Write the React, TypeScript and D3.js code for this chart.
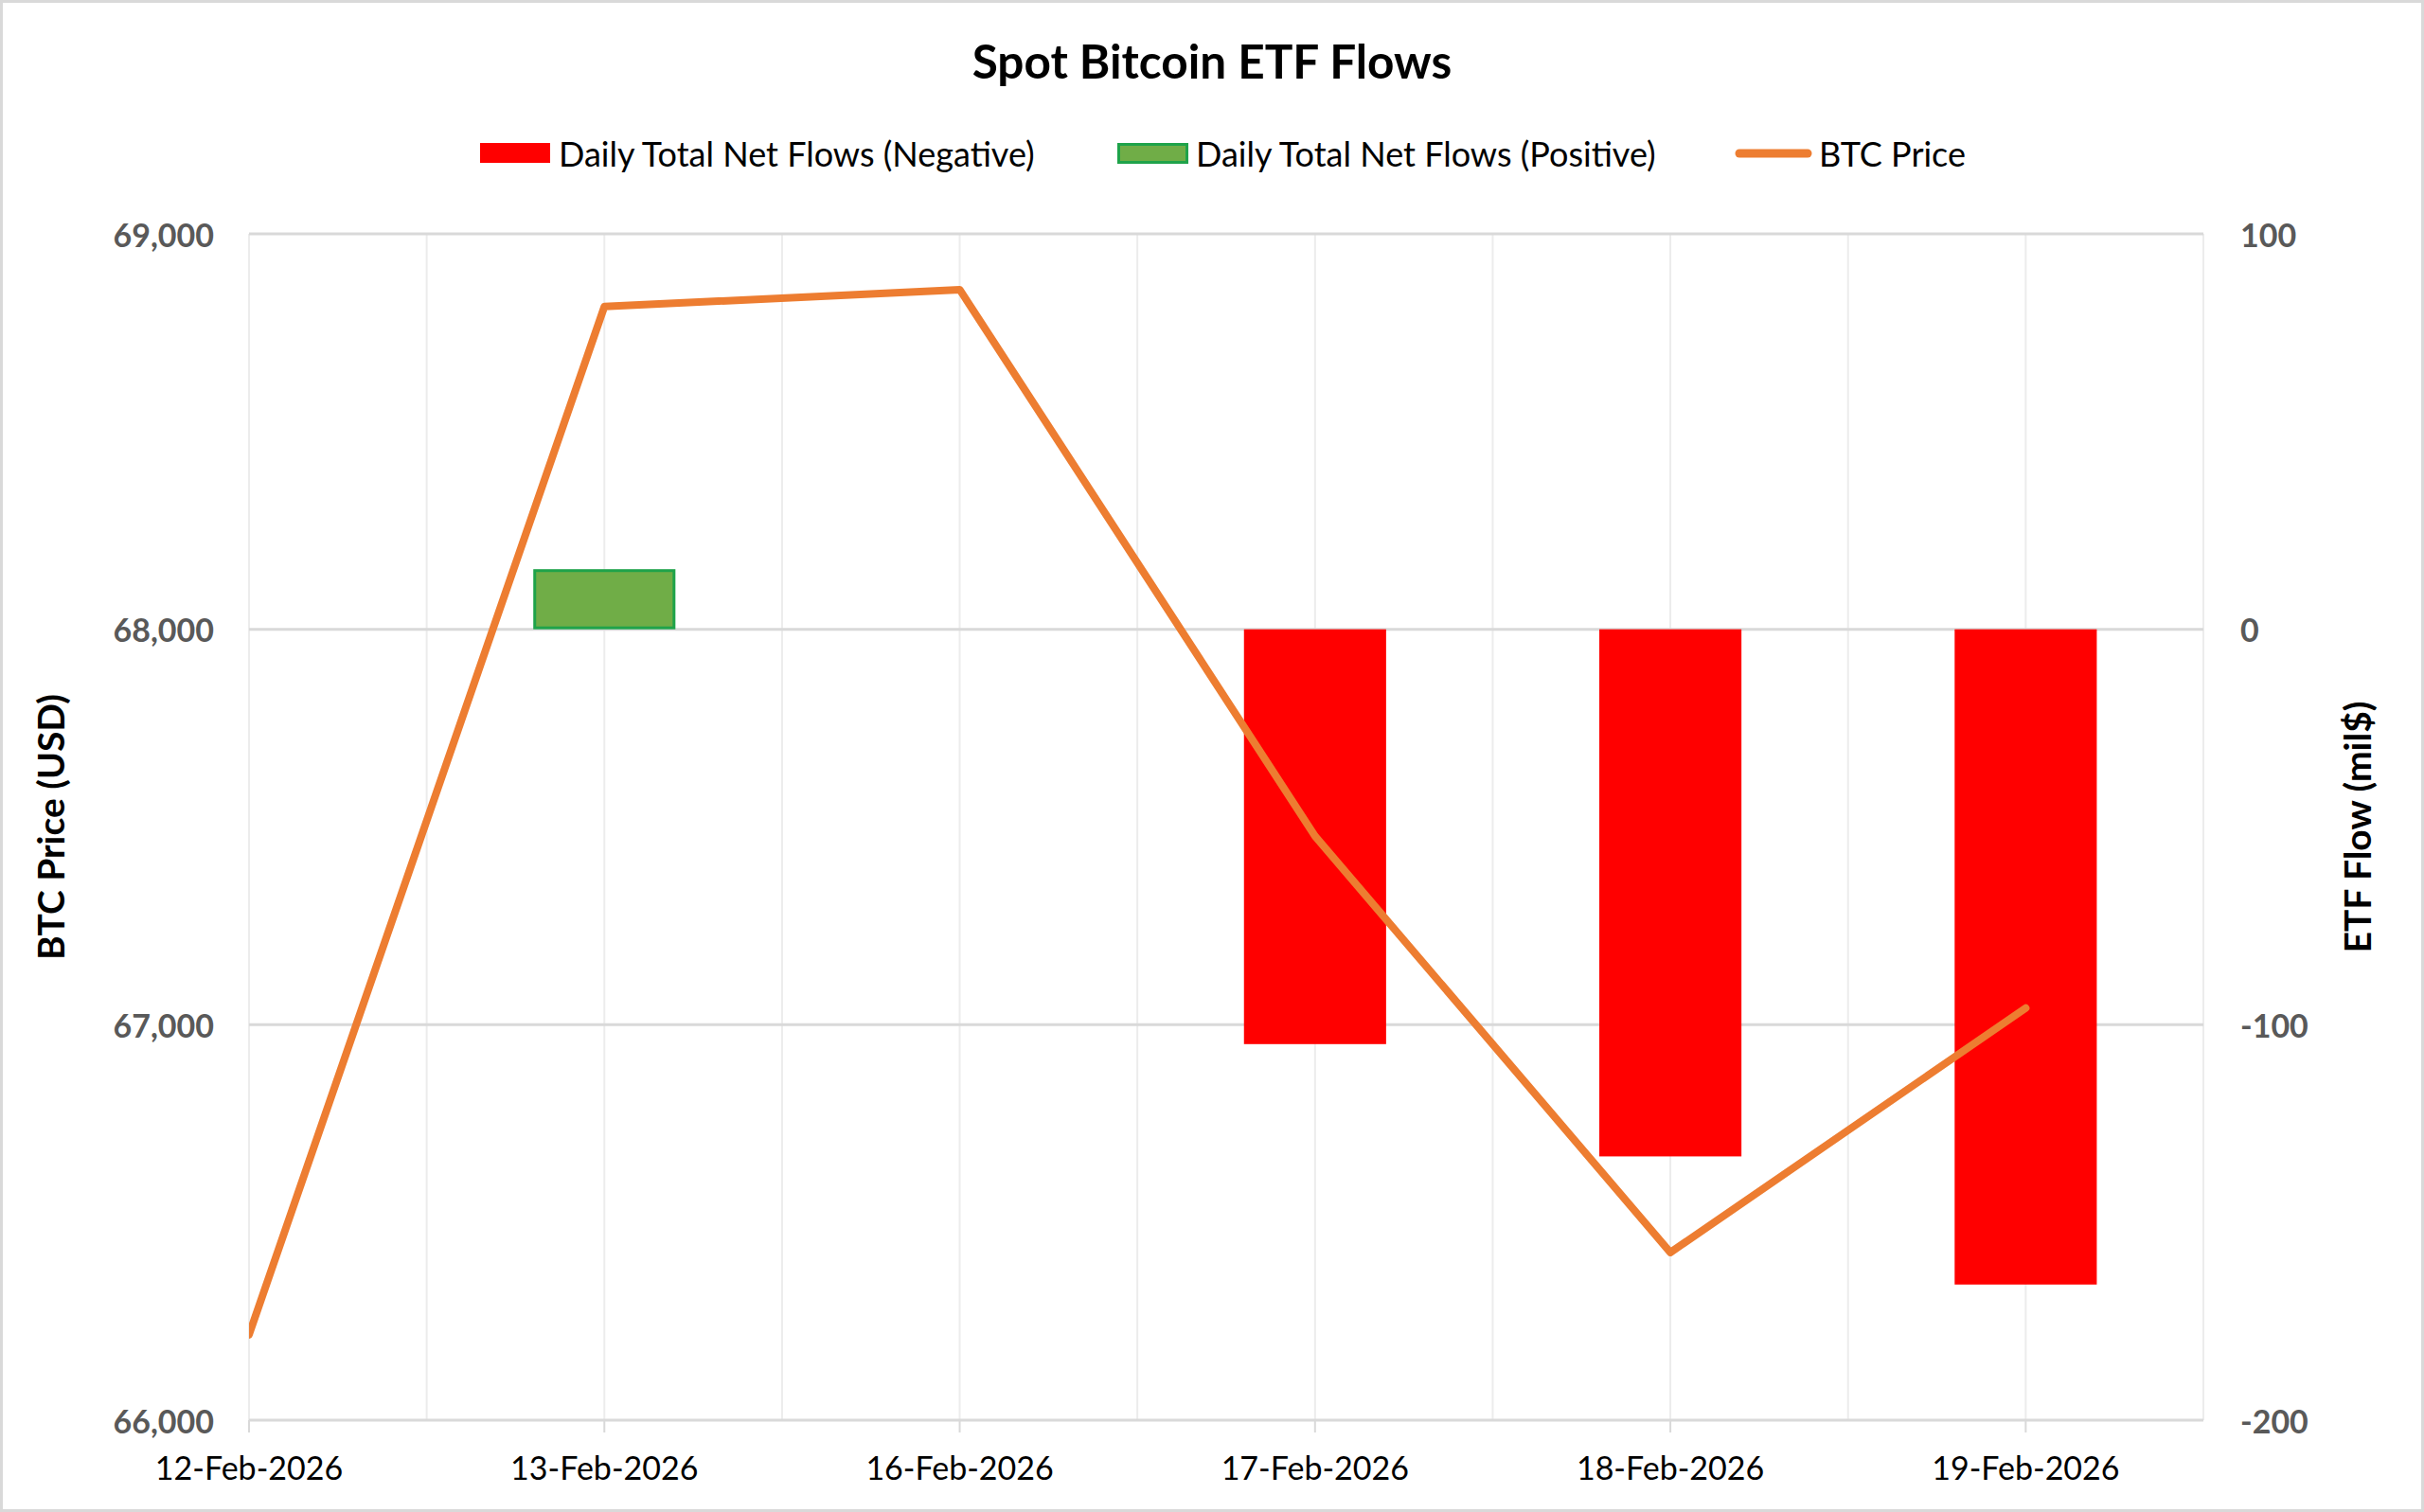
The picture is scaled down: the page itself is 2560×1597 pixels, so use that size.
import * as d3 from 'd3'

// Spot Bitcoin ETF flows vs BTC price
const dates = ['12-Feb-2026', '13-Feb-2026', '16-Feb-2026', '17-Feb-2026', '18-Feb-2026', '19-Feb-2026']
const btcPrice = [66216, 68816, 68859, 67477, 66424, 67042]
const netFlows: (number | null)[] = [null, 15.2, null, -104.9, -133.3, -165.7]
const priceTicks = [66000, 67000, 68000, 69000]
const flowTicks = [-200, -100, 0, 100]
const legendLabels = [
  'Daily Total Net Flows (Negative)',
  'Daily Total Net Flows (Positive)',
  'BTC Price',
]

const W = 2560
const H = 1597
const margin = { top: 247, right: 233, bottom: 97, left: 263 }
const FONT = "Lato, 'Open Sans', sans-serif"

const RED = '#ff0000'
const GREEN = '#70ad47'
const GREEN_EDGE = '#1fa34a'
const ORANGE = '#ed7d31'

export default function App() {
  const x0 = margin.left
  const x1 = W - margin.right
  const y0 = margin.top
  const y1 = H - margin.bottom

  const x = d3.scaleLinear().domain([0, dates.length - 0.5]).range([x0, x1])
  const yPrice = d3.scaleLinear().domain([66000, 69000]).range([y1, y0])
  const yFlow = d3.scaleLinear().domain([-200, 100]).range([y1, y0])

  const vGrid = d3.range(0, dates.length - 0.5 + 0.001, 0.5)
  const barHalf = 0.2

  const line = d3
    .line<number>()
    .x((_, i) => x(i))
    .y((d) => yPrice(d))

  const fmt = d3.format(',')

  return (
    <div style={{ position: 'fixed', left: 0, top: 0 }}>
      <svg width={W} height={H} style={{ display: 'block', background: '#fff' }}>
        <defs>
          <clipPath id="plot">
            <rect x={x0} y={y0 - 20} width={x1 - x0 + 20} height={y1 - y0 + 40} />
          </clipPath>
        </defs>
        <rect x={1.5} y={1.5} width={W - 3} height={H - 3} fill="#fff" stroke="#d9d9d9" strokeWidth={3} />

        {/* title */}
        <text x={W / 2} y={83} textAnchor="middle" fontFamily={FONT} fontWeight={700} fontSize={49.5} fill="#000">
          Spot Bitcoin ETF Flows
        </text>

        {/* legend */}
        <g fontFamily={FONT} fontSize={36} fill="#000">
          <rect x={507} y={151} width={74} height={21} fill={RED} />
          <text x={590} y={162} dominantBaseline="central">{legendLabels[0]}</text>
          <rect x={1181.5} y={152.5} width={72} height={19} fill={GREEN} stroke={GREEN_EDGE} strokeWidth={3} />
          <text x={1263} y={162} dominantBaseline="central">{legendLabels[1]}</text>
          <line x1={1837} x2={1909} y1={162} y2={162} stroke={ORANGE} strokeWidth={9} strokeLinecap="round" />
          <text x={1921} y={162} dominantBaseline="central">{legendLabels[2]}</text>
        </g>

        {/* gridlines */}
        {vGrid.map((v) => (
          <line key={'v' + v} x1={x(v)} x2={x(v)} y1={y0} y2={y1} stroke="#ececec" strokeWidth={2} />
        ))}
        {priceTicks.map((t) => (
          <line key={'h' + t} x1={x0} x2={x1} y1={yPrice(t)} y2={yPrice(t)} stroke="#d9d9d9" strokeWidth={3} />
        ))}
        {/* x tick marks */}
        {dates.map((d, i) => (
          <line key={'t' + d} x1={x(i)} x2={x(i)} y1={y1} y2={y1 + 13} stroke="#d9d9d9" strokeWidth={2} />
        ))}

        {/* flow bars */}
        {netFlows.map((v, i) =>
          v == null ? null : v < 0 ? (
            <rect
              key={'b' + i}
              x={x(i - barHalf)}
              y={yFlow(0)}
              width={x(i + barHalf) - x(i - barHalf)}
              height={yFlow(v) - yFlow(0)}
              fill={RED}
            />
          ) : (
            <rect
              key={'b' + i}
              x={x(i - barHalf) + 1.5}
              y={yFlow(v) + 1.5}
              width={x(i + barHalf) - x(i - barHalf) - 3}
              height={yFlow(0) - yFlow(v) - 3}
              fill={GREEN}
              stroke={GREEN_EDGE}
              strokeWidth={3}
            />
          )
        )}

        {/* price line */}
        <path
          d={line(btcPrice) ?? ''}
          fill="none"
          stroke={ORANGE}
          strokeWidth={8}
          strokeLinecap="round"
          strokeLinejoin="round"
          clipPath="url(#plot)"
        />

        {/* left axis labels */}
        <g fontFamily={FONT} fontWeight={700} fontSize={34} fill="#595959">
          {priceTicks.map((t) => (
            <text key={'l' + t} x={226} y={yPrice(t)} textAnchor="end" dominantBaseline="central">
              {fmt(t)}
            </text>
          ))}
        </g>
        {/* right axis labels */}
        <g fontFamily={FONT} fontWeight={700} fontSize={34} fill="#595959">
          {flowTicks.map((t) => (
            <text key={'r' + t} x={2366} y={yFlow(t)} textAnchor="start" dominantBaseline="central">
              {String(t)}
            </text>
          ))}
        </g>
        {/* x labels */}
        <g fontFamily={FONT} fontSize={34} fill="#000">
          {dates.map((d, i) => (
            <text key={'x' + d} x={x(i)} y={1563} textAnchor="middle">
              {d}
            </text>
          ))}
        </g>

        {/* axis titles */}
        <text
          transform={`translate(53,${(y0 + y1) / 2}) rotate(-90)`}
          textAnchor="middle"
          dominantBaseline="central"
          fontFamily={FONT}
          fontWeight={700}
          fontSize={39}
          fill="#000"
        >
          BTC Price (USD)
        </text>
        <text
          transform={`translate(2489,${(y0 + y1) / 2}) rotate(-90)`}
          textAnchor="middle"
          dominantBaseline="central"
          fontFamily={FONT}
          fontWeight={700}
          fontSize={39}
          fill="#000"
        >
          ETF Flow (mil$)
        </text>
      </svg>
    </div>
  )
}
